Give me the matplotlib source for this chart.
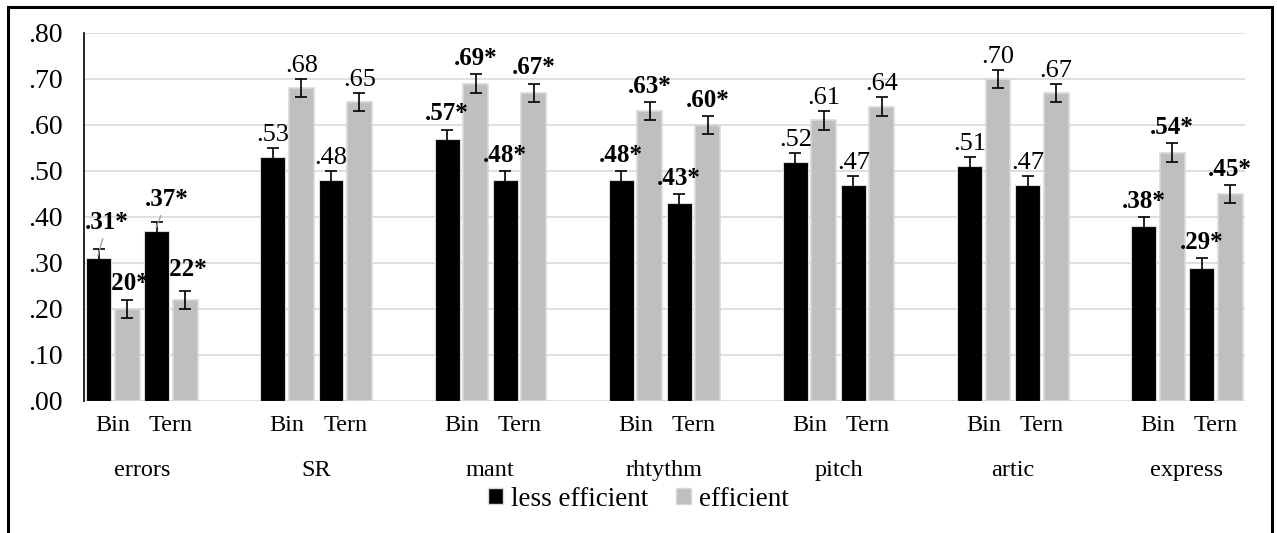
import matplotlib.pyplot as plt
import matplotlib.patches as patches
import numpy as np

plt.rcParams['font.family'] = ['Liberation Serif', 'DejaVu Serif']

# Data
groups = ['errors', 'SR', 'mant', 'rhtythm', 'pitch', 'artic', 'express']
subcats = ['Bin', 'Tern']
less_eff = [0.31, 0.37, 0.53, 0.48, 0.57, 0.48, 0.48, 0.43, 0.52, 0.47, 0.51, 0.47, 0.38, 0.29]
eff = [0.20, 0.22, 0.68, 0.65, 0.69, 0.67, 0.63, 0.60, 0.61, 0.64, 0.70, 0.67, 0.54, 0.45]
less_err = [0.02] * 14
eff_err = [0.02] * 14
less_sig = [True, True, False, False, True, True, True, True, False, False, False, False, True, True]
eff_sig = [True, True, False, False, True, True, True, True, False, False, False, False, True, True]

# Colors
black = '#000000'
grey = '#BFBFBF'

fig = plt.figure(figsize=(12.77, 5.33), dpi=100)
ax = fig.add_axes([84/1277, 1 - 401/533, (1245-84)/1277, (401-33)/533])

# positions: Bin, Tern, blank slot between groups
pos = np.array([g * 3 + s for g in range(len(groups)) for s in range(2)])
w = 0.43
off = 0.245

ax.bar(pos - off, less_eff, w, color=black, edgecolor='#D9D9D9', linewidth=0.8, zorder=2)
ax.bar(pos + off, eff, w, color=grey, edgecolor='#D9D9D9', linewidth=1.2, zorder=2)
ax.errorbar(pos - off, less_eff, yerr=less_err, fmt='none', ecolor='black',
            elinewidth=1.2, capsize=4, capthick=1.2, zorder=3)
ax.errorbar(pos + off, eff, yerr=eff_err, fmt='none', ecolor='black',
            elinewidth=1.2, capsize=4, capthick=1.2, zorder=3)

ax.set_xlim(-0.5, 19.5)
ax.set_ylim(0, 0.8)
ax.set_yticks(np.arange(0, 0.81, 0.1))
ax.set_yticklabels(['.%02d' % round(v * 100) for v in np.arange(0, 0.81, 0.1)], fontsize=20)
ax.yaxis.grid(True, color='#D9D9D9', linewidth=1.2, zorder=0)
ax.set_axisbelow(True)
ax.set_xticks([])
for s in ['top', 'right', 'bottom']:
    ax.spines[s].set_visible(False)
ax.spines['left'].set_linewidth(1.2)
ax.tick_params(axis='y', length=0, pad=15.5)


def fmt(v, sig):
    return ('.%02d' % round(v * 100)) + ('*' if sig else '')


# value labels
for i, x in enumerate(pos):
    if i < 2:
        continue
    for xs, vals, errs, sig in [(x - off, less_eff, less_err, less_sig),
                                (x + off, eff, eff_err, eff_sig)]:
        v = vals[i]
        kw = dict(fontsize=18 if sig[i] else 19, fontweight='bold' if sig[i] else 'normal')
        ax.annotate(fmt(v, sig[i]), (xs, v + errs[i]), xytext=(0, 3 if sig[i] else 1.5),
                    textcoords='offset points', ha='center', va='bottom', **kw)

# displaced labels in the errors group
bkw = dict(fontsize=18, fontweight='bold', va='center')
ax.annotate(fmt(less_eff[0], True), (-0.26, less_eff[0] + 0.006),
            xytext=(-0.10, 0.387), ha='center',
            arrowprops=dict(arrowstyle='-', color='#A6A6A6', lw=1, shrinkA=1, shrinkB=0), **bkw)
ax.annotate(fmt(less_eff[1], True), (0.74, less_eff[1] + 0.006),
            xytext=(0.93, 0.437), ha='center',
            arrowprops=dict(arrowstyle='-', color='#A6A6A6', lw=1, shrinkA=1, shrinkB=0), **bkw)
ax.text(-0.125, 0.2565, fmt(eff[0], True), ha='left', **bkw)
ax.text(0.87, 0.285, fmt(eff[1], True), ha='left', **bkw)

# category labels
for x, lab in zip(pos, subcats * len(groups)):
    ax.text(x, -0.053, lab, ha='center', va='center', fontsize=17.5, clip_on=False)
for g, name in enumerate(groups):
    ax.text(g * 3 + 0.5, -0.151, name, ha='center', va='center', fontsize=17.5, clip_on=False)

# legend
h1 = patches.Patch(facecolor=black, edgecolor='#D9D9D9')
h2 = patches.Patch(facecolor=grey, edgecolor='#D9D9D9')
fig.legend([h1, h2], ['less efficient', 'efficient'], loc='center',
           bbox_to_anchor=(0.5, 1 - 499/533), ncol=2, frameon=False, fontsize=19.5,
           handlelength=0.55, handleheight=0.55, handletextpad=0.3, columnspacing=1.0)

# outer frame
fig.patches.append(patches.Rectangle((8/1277, -0.05), (1272-8)/1277, 1.05 - 7/533,
                                     transform=fig.transFigure, fill=False,
                                     edgecolor='black', linewidth=2.2))

fig.savefig('out.png', dpi=100, facecolor='white')
